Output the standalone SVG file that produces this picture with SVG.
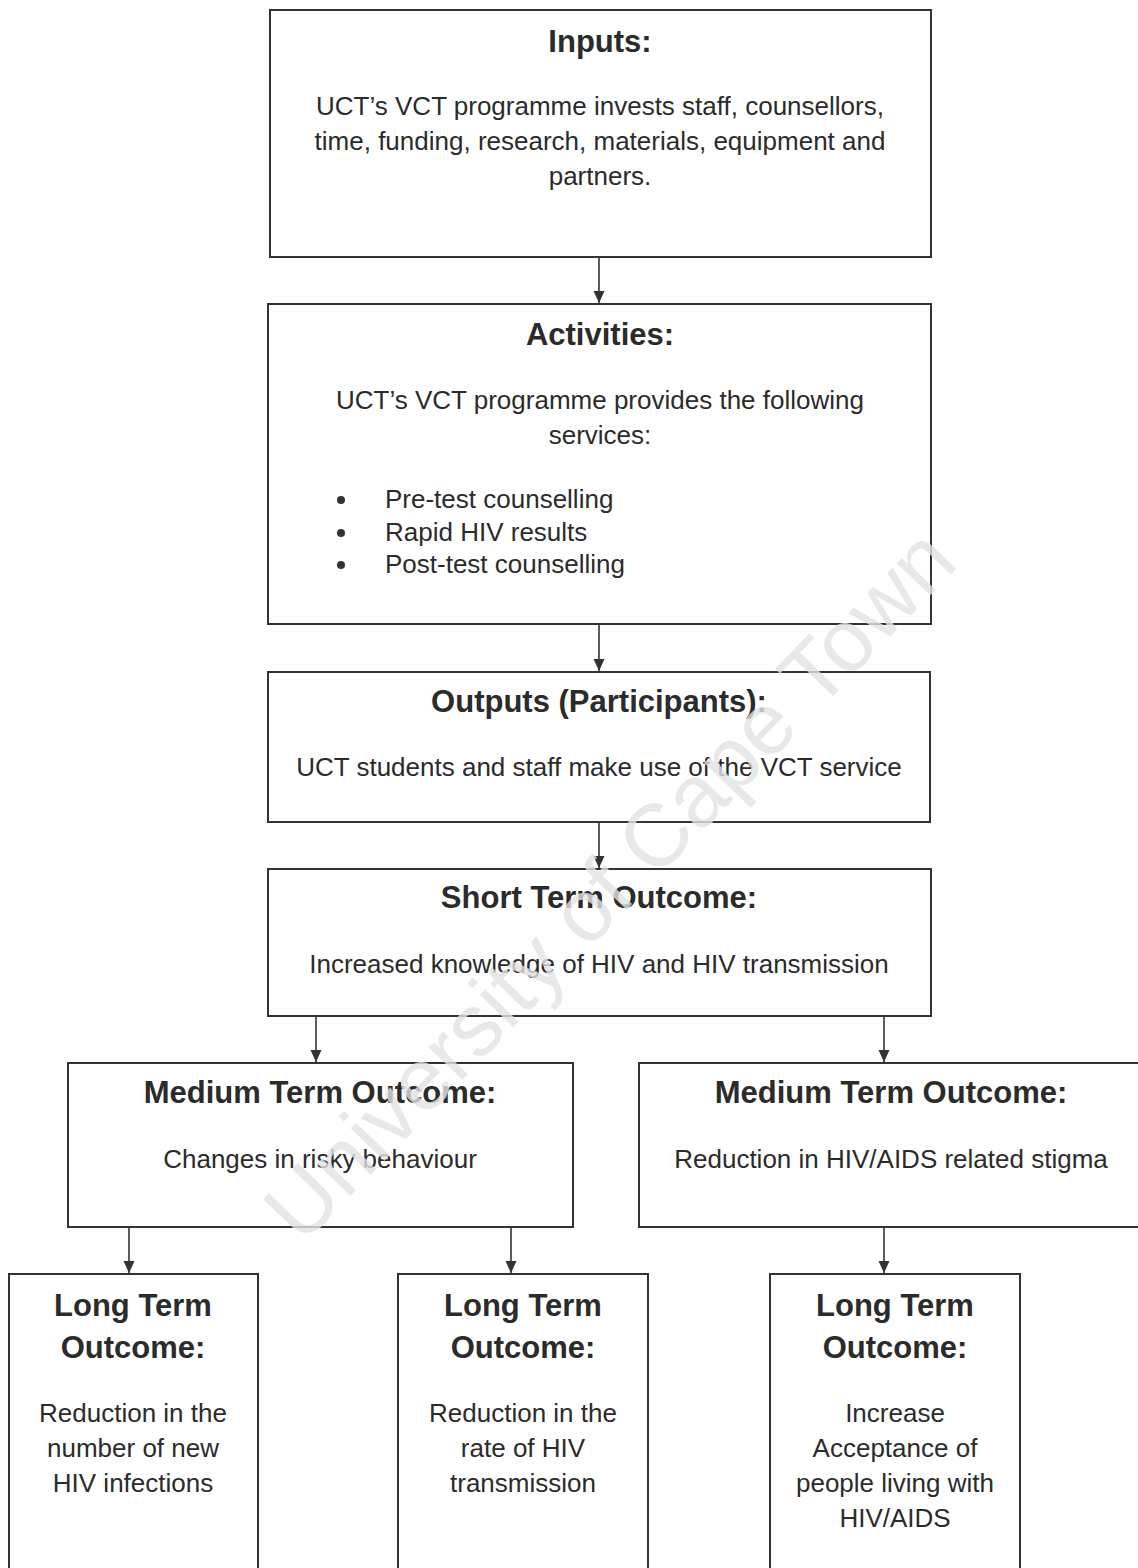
<svg xmlns="http://www.w3.org/2000/svg" width="1138" height="1568" viewBox="0 0 1138 1568">
  <style>
    .box { fill: #ffffff; stroke: #333333; stroke-width: 2; }
    .open { fill: none; stroke: #333333; stroke-width: 2; }
    .h { font-family: "Liberation Sans", Arial, sans-serif; font-size: 31px; font-weight: bold; fill: #2b2b2b; text-anchor: middle; }
    .b { font-family: "Liberation Sans", Arial, sans-serif; font-size: 26px; fill: #2b2b2b; text-anchor: middle; }
    .bl { font-family: "Liberation Sans", Arial, sans-serif; font-size: 26px; fill: #2b2b2b; text-anchor: start; }
    .conn { stroke: #333333; stroke-width: 1.6; fill: none; marker-end: url(#arr); }
    .wm { font-family: "Liberation Sans", Arial, sans-serif; font-size: 88px; fill: #e2e2e2; fill-opacity: 0.8; }
  </style>
  <defs>
    <marker id="arr" markerUnits="userSpaceOnUse" markerWidth="13" markerHeight="13" viewBox="0 0 13 13" refX="12" refY="6.5" orient="auto">
      <path d="M0,1 L12,6.5 L0,12 Z" fill="#333333"/>
    </marker>
  </defs>
  <rect width="1138" height="1568" fill="#ffffff"/>

  <g id="inputs">
    <rect class="box" x="270" y="10" width="661" height="247"/>
    <text class="h" x="600" y="52">Inputs:</text>
    <text class="b" x="600" y="115">UCT’s VCT programme invests staff, counsellors,</text>
    <text class="b" x="600" y="150">time, funding, research, materials, equipment and</text>
    <text class="b" x="600" y="185">partners.</text>
  </g>

  <g id="activities">
    <rect class="box" x="268" y="304" width="663" height="320"/>
    <text class="h" x="600" y="345">Activities:</text>
    <text class="b" x="600" y="409">UCT’s VCT programme provides the following</text>
    <text class="b" x="600" y="444">services:</text>
    <circle cx="341" cy="500" r="4" fill="#333333"/>
    <text class="bl" x="385" y="508">Pre-test counselling</text>
    <circle cx="341" cy="533" r="4" fill="#333333"/>
    <text class="bl" x="385" y="541">Rapid HIV results</text>
    <circle cx="341" cy="565" r="4" fill="#333333"/>
    <text class="bl" x="385" y="573">Post-test counselling</text>
  </g>

  <g id="outputs">
    <rect class="box" x="268" y="672" width="662" height="150"/>
    <text class="h" x="599" y="712">Outputs (Participants):</text>
    <text class="b" x="599" y="776">UCT students and staff make use of the VCT service</text>
  </g>

  <g id="short-term">
    <rect class="box" x="268" y="869" width="663" height="147"/>
    <text class="h" x="599" y="908">Short Term Outcome:</text>
    <text class="b" x="599" y="973">Increased knowledge of HIV and HIV transmission</text>
  </g>

  <g id="medium-left">
    <rect class="box" x="68" y="1063" width="505" height="164"/>
    <text class="h" x="320" y="1103">Medium Term Outcome:</text>
    <text class="b" x="320" y="1168">Changes in risky behaviour</text>
  </g>

  <g id="medium-right">
    <path class="open" d="M1145,1063 L639,1063 L639,1227 L1145,1227"/>
    <text class="h" x="891" y="1103">Medium Term Outcome:</text>
    <text class="b" x="891" y="1168">Reduction in HIV/AIDS related stigma</text>
  </g>

  <g id="long-1">
    <path class="open" d="M9,1575 L9,1274 L258,1274 L258,1575"/>
    <text class="h" x="133" y="1316">Long Term</text>
    <text class="h" x="133" y="1358">Outcome:</text>
    <text class="b" x="133" y="1422">Reduction in the</text>
    <text class="b" x="133" y="1457">number of new</text>
    <text class="b" x="133" y="1492">HIV infections</text>
  </g>

  <g id="long-2">
    <path class="open" d="M398,1575 L398,1274 L648,1274 L648,1575"/>
    <text class="h" x="523" y="1316">Long Term</text>
    <text class="h" x="523" y="1358">Outcome:</text>
    <text class="b" x="523" y="1422">Reduction in the</text>
    <text class="b" x="523" y="1457">rate of HIV</text>
    <text class="b" x="523" y="1492">transmission</text>
  </g>

  <g id="long-3">
    <path class="open" d="M770,1575 L770,1274 L1020,1274 L1020,1575"/>
    <text class="h" x="895" y="1316">Long Term</text>
    <text class="h" x="895" y="1358">Outcome:</text>
    <text class="b" x="895" y="1422">Increase</text>
    <text class="b" x="895" y="1457">Acceptance of</text>
    <text class="b" x="895" y="1492">people living with</text>
    <text class="b" x="895" y="1527">HIV/AIDS</text>
  </g>

  <g id="connectors">
    <line class="conn" x1="599" y1="258" x2="599" y2="303"/>
    <line class="conn" x1="599" y1="625" x2="599" y2="671"/>
    <line class="conn" x1="599" y1="823" x2="599" y2="868"/>
    <line class="conn" x1="316" y1="1017" x2="316" y2="1062"/>
    <line class="conn" x1="884" y1="1017" x2="884" y2="1062"/>
    <line class="conn" x1="129" y1="1228" x2="129" y2="1273"/>
    <line class="conn" x1="511" y1="1228" x2="511" y2="1273"/>
    <line class="conn" x1="884" y1="1228" x2="884" y2="1273"/>
  </g>

  <text class="wm" transform="translate(302,1246) rotate(-46)">University of Cape Town</text>
</svg>
